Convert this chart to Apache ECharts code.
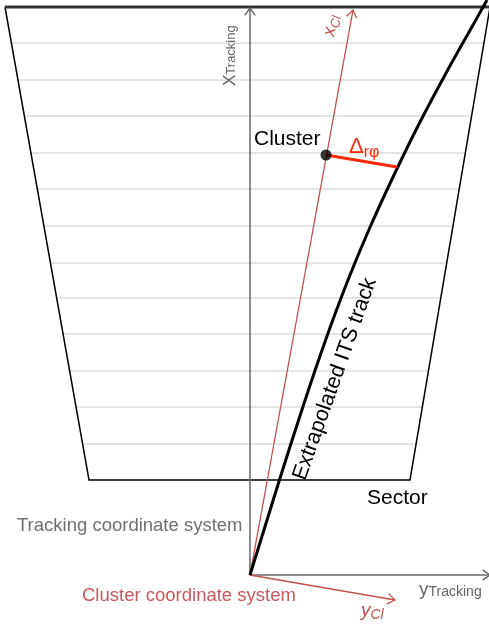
<!DOCTYPE html>
<html><head><meta charset="utf-8">
<script src="https://cdn.jsdelivr.net/npm/echarts@6/dist/echarts.min.js"></script>
<style>html,body{margin:0;padding:0;background:#fff}#c{width:489px;height:625px}</style>
</head><body><div id="c"></div>
<script>
// Coordinates: origin at the tracking-frame origin, x to the right, y upward (1 unit = 1 px)
const trackX = [0, 15.5, 31, 47, 63.5, 81, 100, 121, 144, 168.5, 195, 223, 237];
const trackY = [0, 50, 100, 150, 200, 250, 300, 350, 400, 450, 500, 550, 575];
const sectorX = [-245, -161, 160, 240];
const sectorY = [568, 95, 95, 568];
const padRowY = [532, 495, 459, 422, 386, 349, 312, 277, 241, 204, 168, 131];
const trackingAxisY = [567, 0];
const trackingAxisYEnd = [240, 0];
const clusterXAxisTip = [103, 565];
const clusterYAxisTip = [145, -25];
const clusterPoint = [76, 420];
const deltaEnd = [147, 408];

const F = '"Liberation Sans", Arial, Helvetica, sans-serif';
const series = [];
function seg(pts, color, width, z) {
  series.push({type: 'line', data: pts, showSymbol: false, symbol: 'none', silent: true,
    lineStyle: {color: color, width: width, cap: 'butt', join: 'miter'}, z: z || 2, animation: false});
}
function edgeX(y, side) {
  const i0 = side === 'L' ? 0 : 3, i1 = side === 'L' ? 1 : 2;
  const t = (y - sectorY[i0]) / (sectorY[i1] - sectorY[i0]);
  return sectorX[i0] + t * (sectorX[i1] - sectorX[i0]);
}
function arrowHead(from, tip, color, width) {
  const dx = tip[0] - from[0], dy = tip[1] - from[1];
  const L = Math.hypot(dx, dy), ux = dx / L, uy = dy / L;
  const len = 9, a = 35 * Math.PI / 180;
  const c = Math.cos(a), s = Math.sin(a);
  const l1 = [tip[0] - len * (ux * c - uy * s), tip[1] - len * (uy * c + ux * s)];
  const l2 = [tip[0] - len * (ux * c + uy * s), tip[1] - len * (uy * c - ux * s)];
  seg([l1, tip, l2], color, width, 3);
}
padRowY.forEach(y => seg([[edgeX(y, 'L'), y], [edgeX(y, 'R'), y]], '#dddddd', 1.5, 1));
seg(sectorX.map((x, i) => [x, sectorY[i]]), '#000', 1.5, 2);
seg([[sectorX[0], sectorY[0]], [sectorX[3] + 5, sectorY[3]]], '#333', 3, 2);
seg([[0, trackingAxisY[1]], [0, trackingAxisY[0]]], '#666', 1.5, 3);
arrowHead([0, 0], [0, trackingAxisY[0]], '#666', 1.5);
seg([[0, 0], trackingAxisYEnd], '#666', 1.5, 3);
arrowHead([0, 0], trackingAxisYEnd, '#666', 1.5);
seg([[0, 0], clusterXAxisTip], '#c0504d', 1.3, 4);
arrowHead([0, 0], clusterXAxisTip, '#c0504d', 1.3);
seg([[0, 0], clusterYAxisTip], '#c0504d', 1.3, 4);
arrowHead([0, 0], clusterYAxisTip, '#c0504d', 1.3);
series.push({type: 'line', data: trackX.map((x, i) => [x, trackY[i]]), smooth: 0.4, showSymbol: false,
  symbol: 'none', lineStyle: {color: '#000', width: 3}, z: 5, animation: false, silent: true});
seg([clusterPoint, deltaEnd], '#ff2a0a', 3, 6);
series.push({type: 'scatter', data: [clusterPoint], symbolSize: 11, itemStyle: {color: '#000'}, z: 7, animation: false, silent: true});

const chart = echarts.init(document.getElementById('c'));
chart.setOption({
  animation: false,
  grid: {left: 0, right: 0, top: 0, bottom: 0},
  xAxis: {type: 'value', min: -250, max: 239, show: false},
  yAxis: {type: 'value', min: -50, max: 575, show: false},
  series: series,
  graphic: [
    {type: 'text', x: 239, y: 86, rotation: Math.PI / 2, z: 10,
      style: {text: '{a|X}{b|Tracking}', align: 'left', verticalAlign: 'bottom',
        rich: {a: {fontSize: 17, fill: '#666', fontFamily: F, verticalAlign: 'bottom'}, b: {fontSize: 13, fill: '#666', fontFamily: F, verticalAlign: 'bottom', padding: [0, 0, 1, 0]}}}},
    {type: 'text', x: 340, y: 38, rotation: Math.atan2(565, 103), z: 10,
      style: {text: '{a|x}{b|Cl}', align: 'left', verticalAlign: 'bottom',
        rich: {a: {fontSize: 18, fill: '#c0504d', fontStyle: 'italic', fontFamily: F, verticalAlign: 'bottom', padding: [0, 0, 2, 0]}, b: {fontSize: 13, fill: '#c0504d', fontStyle: 'italic', fontFamily: F, verticalAlign: 'bottom'}}}},
    {type: 'text', x: 419, y: 599, z: 10,
      style: {text: '{a|y}{b|Tracking}', align: 'left', verticalAlign: 'bottom',
        rich: {a: {fontSize: 19, fill: '#666', fontFamily: F, verticalAlign: 'bottom'}, b: {fontSize: 14, fill: '#666', fontFamily: F, verticalAlign: 'bottom'}}}},
    {type: 'text', x: 361, y: 622, z: 10,
      style: {text: '{a|y}{b|Cl}', align: 'left', verticalAlign: 'bottom',
        rich: {a: {fontSize: 19, fill: '#c0504d', fontStyle: 'italic', fontFamily: F, verticalAlign: 'bottom', padding: [0, 0, 2, 0]}, b: {fontSize: 14, fill: '#c0504d', fontStyle: 'italic', fontFamily: F, verticalAlign: 'bottom'}}}},
    {type: 'text', x: 254, y: 139, z: 10,
      style: {text: 'Cluster', fontSize: 21, fill: '#000', fontFamily: F, align: 'left', verticalAlign: 'middle'}},
    {type: 'text', x: 349, y: 161, z: 10,
      style: {text: '{a|Δ}{b|rφ}', align: 'left', verticalAlign: 'bottom',
        rich: {a: {fontSize: 22, fill: '#ff2a0a', fontFamily: F, verticalAlign: 'bottom', padding: [0, 0, 3, 0]}, b: {fontSize: 16, fill: '#ff2a0a', fontFamily: F, verticalAlign: 'bottom'}}}},
    {type: 'text', x: 367, y: 498, z: 10,
      style: {text: 'Sector', fontSize: 21, fill: '#000', fontFamily: F, align: 'left', verticalAlign: 'middle'}},
    {type: 'text', x: 17, y: 526, z: 10,
      style: {text: 'Tracking coordinate system', fontSize: 18.5, fill: '#707070', fontFamily: F, align: 'left', verticalAlign: 'middle'}},
    {type: 'text', x: 82, y: 596, z: 10,
      style: {text: 'Cluster coordinate system', fontSize: 18.5, fill: '#c8585a', fontFamily: F, align: 'left', verticalAlign: 'middle'}},
    {type: 'text', x: 335, y: 379, rotation: Math.atan2(197, 70), z: 10,
      style: {text: 'Extrapolated ITS track', fontSize: 21.5, fill: '#000', fontFamily: F, align: 'center', verticalAlign: 'middle'}}
  ]
});
</script></body></html>
